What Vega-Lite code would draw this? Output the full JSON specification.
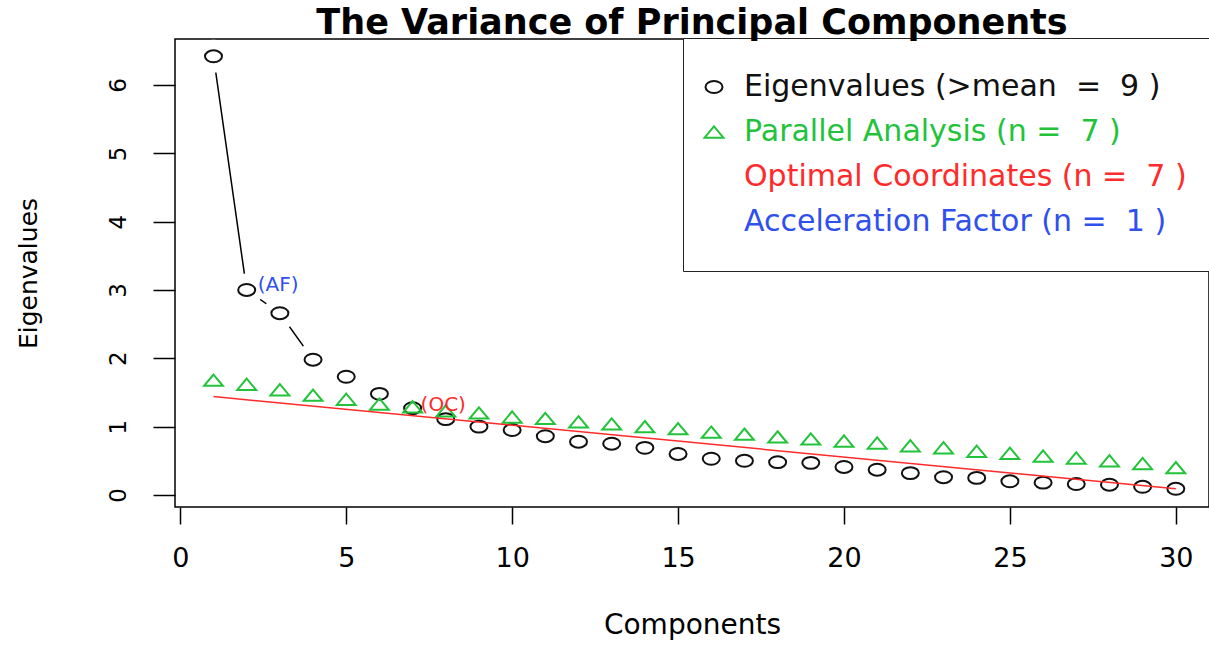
{
  "$schema": "https://vega.github.io/schema/vega-lite/v6.json",
  "usermeta": {"embedOptions": {"actions": false}},
  "autosize": "none",
  "width": 1034,
  "height": 468,
  "padding": {"left": 175, "top": 39, "right": 0, "bottom": 141},
  "background": "white",
  "title": {
    "text": "The Variance of Principal Components",
    "font": "DejaVu Sans",
    "fontSize": 35,
    "fontWeight": "bold",
    "color": "black",
    "anchor": "middle",
    "frame": "group",
    "baseline": "alphabetic",
    "offset": -31
  },
  "config": {
    "view": {"stroke": "black", "strokeWidth": 1.5},
    "axis": {"labelColor": "black", "titleColor": "black", "tickColor": "black", "grid": false, "domain": false}
  },
  "datasets": {
    "points": [
      {"component": 1, "value": 6.42, "series": "Eigenvalues (>mean \u00a0= \u00a09 )"},
      {"component": 2, "value": 3.00, "series": "Eigenvalues (>mean \u00a0= \u00a09 )"},
      {"component": 3, "value": 2.66, "series": "Eigenvalues (>mean \u00a0= \u00a09 )"},
      {"component": 4, "value": 1.98, "series": "Eigenvalues (>mean \u00a0= \u00a09 )"},
      {"component": 5, "value": 1.73, "series": "Eigenvalues (>mean \u00a0= \u00a09 )"},
      {"component": 6, "value": 1.48, "series": "Eigenvalues (>mean \u00a0= \u00a09 )"},
      {"component": 7, "value": 1.27, "series": "Eigenvalues (>mean \u00a0= \u00a09 )"},
      {"component": 8, "value": 1.11, "series": "Eigenvalues (>mean \u00a0= \u00a09 )"},
      {"component": 9, "value": 1.00, "series": "Eigenvalues (>mean \u00a0= \u00a09 )"},
      {"component": 10, "value": 0.95, "series": "Eigenvalues (>mean \u00a0= \u00a09 )"},
      {"component": 11, "value": 0.86, "series": "Eigenvalues (>mean \u00a0= \u00a09 )"},
      {"component": 12, "value": 0.78, "series": "Eigenvalues (>mean \u00a0= \u00a09 )"},
      {"component": 13, "value": 0.75, "series": "Eigenvalues (>mean \u00a0= \u00a09 )"},
      {"component": 14, "value": 0.69, "series": "Eigenvalues (>mean \u00a0= \u00a09 )"},
      {"component": 15, "value": 0.60, "series": "Eigenvalues (>mean \u00a0= \u00a09 )"},
      {"component": 16, "value": 0.53, "series": "Eigenvalues (>mean \u00a0= \u00a09 )"},
      {"component": 17, "value": 0.50, "series": "Eigenvalues (>mean \u00a0= \u00a09 )"},
      {"component": 18, "value": 0.48, "series": "Eigenvalues (>mean \u00a0= \u00a09 )"},
      {"component": 19, "value": 0.47, "series": "Eigenvalues (>mean \u00a0= \u00a09 )"},
      {"component": 20, "value": 0.41, "series": "Eigenvalues (>mean \u00a0= \u00a09 )"},
      {"component": 21, "value": 0.37, "series": "Eigenvalues (>mean \u00a0= \u00a09 )"},
      {"component": 22, "value": 0.32, "series": "Eigenvalues (>mean \u00a0= \u00a09 )"},
      {"component": 23, "value": 0.26, "series": "Eigenvalues (>mean \u00a0= \u00a09 )"},
      {"component": 24, "value": 0.25, "series": "Eigenvalues (>mean \u00a0= \u00a09 )"},
      {"component": 25, "value": 0.20, "series": "Eigenvalues (>mean \u00a0= \u00a09 )"},
      {"component": 26, "value": 0.18, "series": "Eigenvalues (>mean \u00a0= \u00a09 )"},
      {"component": 27, "value": 0.16, "series": "Eigenvalues (>mean \u00a0= \u00a09 )"},
      {"component": 28, "value": 0.15, "series": "Eigenvalues (>mean \u00a0= \u00a09 )"},
      {"component": 29, "value": 0.12, "series": "Eigenvalues (>mean \u00a0= \u00a09 )"},
      {"component": 30, "value": 0.09, "series": "Eigenvalues (>mean \u00a0= \u00a09 )"},
      {"component": 1, "value": 1.68, "series": "Parallel Analysis (n = \u00a07 )"},
      {"component": 2, "value": 1.62, "series": "Parallel Analysis (n = \u00a07 )"},
      {"component": 3, "value": 1.54, "series": "Parallel Analysis (n = \u00a07 )"},
      {"component": 4, "value": 1.46, "series": "Parallel Analysis (n = \u00a07 )"},
      {"component": 5, "value": 1.40, "series": "Parallel Analysis (n = \u00a07 )"},
      {"component": 6, "value": 1.33, "series": "Parallel Analysis (n = \u00a07 )"},
      {"component": 7, "value": 1.29, "series": "Parallel Analysis (n = \u00a07 )"},
      {"component": 8, "value": 1.23, "series": "Parallel Analysis (n = \u00a07 )"},
      {"component": 9, "value": 1.20, "series": "Parallel Analysis (n = \u00a07 )"},
      {"component": 10, "value": 1.14, "series": "Parallel Analysis (n = \u00a07 )"},
      {"component": 11, "value": 1.12, "series": "Parallel Analysis (n = \u00a07 )"},
      {"component": 12, "value": 1.07, "series": "Parallel Analysis (n = \u00a07 )"},
      {"component": 13, "value": 1.04, "series": "Parallel Analysis (n = \u00a07 )"},
      {"component": 14, "value": 1.00, "series": "Parallel Analysis (n = \u00a07 )"},
      {"component": 15, "value": 0.97, "series": "Parallel Analysis (n = \u00a07 )"},
      {"component": 16, "value": 0.92, "series": "Parallel Analysis (n = \u00a07 )"},
      {"component": 17, "value": 0.89, "series": "Parallel Analysis (n = \u00a07 )"},
      {"component": 18, "value": 0.85, "series": "Parallel Analysis (n = \u00a07 )"},
      {"component": 19, "value": 0.82, "series": "Parallel Analysis (n = \u00a07 )"},
      {"component": 20, "value": 0.79, "series": "Parallel Analysis (n = \u00a07 )"},
      {"component": 21, "value": 0.76, "series": "Parallel Analysis (n = \u00a07 )"},
      {"component": 22, "value": 0.72, "series": "Parallel Analysis (n = \u00a07 )"},
      {"component": 23, "value": 0.69, "series": "Parallel Analysis (n = \u00a07 )"},
      {"component": 24, "value": 0.64, "series": "Parallel Analysis (n = \u00a07 )"},
      {"component": 25, "value": 0.61, "series": "Parallel Analysis (n = \u00a07 )"},
      {"component": 26, "value": 0.57, "series": "Parallel Analysis (n = \u00a07 )"},
      {"component": 27, "value": 0.54, "series": "Parallel Analysis (n = \u00a07 )"},
      {"component": 28, "value": 0.50, "series": "Parallel Analysis (n = \u00a07 )"},
      {"component": 29, "value": 0.46, "series": "Parallel Analysis (n = \u00a07 )"},
      {"component": 30, "value": 0.40, "series": "Parallel Analysis (n = \u00a07 )"}
    ],
    "oc": [
      {"component": 1, "value": 1.44},
      {"component": 30, "value": 0.09}
    ],
    "notes": [
      {"component": 2, "value": 3.00, "label": "(AF)"},
      {"component": 7, "value": 1.27, "label": "(OC)"}
    ]
  },
  "encoding": {
    "x": {
      "field": "component", "type": "quantitative",
      "scale": {"domain": [-0.16, 31.0], "nice": false, "zero": false},
      "axis": {
        "values": [0, 5, 10, 15, 20, 25, 30],
        "title": "Components",
        "tickSize": 17, "tickWidth": 1.5,
        "labelFont": "DejaVu Sans", "labelFontSize": 27, "labelPadding": 21,
        "titleFont": "DejaVu Sans", "titleFontSize": 28, "titleFontWeight": "normal", "titlePadding": 40
      }
    },
    "y": {
      "field": "value", "type": "quantitative",
      "scale": {"domain": [-0.176, 6.673], "nice": false, "zero": false},
      "axis": {
        "values": [0, 1, 2, 3, 4, 5, 6],
        "title": "Eigenvalues",
        "tickSize": 22, "tickWidth": 1.5,
        "labelAngle": -90, "labelAlign": "center", "labelBaseline": "alphabetic",
        "labelFont": "DejaVu Sans", "labelFontSize": 23, "labelPadding": 28,
        "titleFont": "DejaVu Sans", "titleFontSize": 25, "titleFontWeight": "normal", "titlePadding": 66
      }
    }
  },
  "layer": [
    {
      "data": {"name": "points"},
      "transform": [{"filter": "datum.component <= 4 && indexof(datum.series, 'Eigen') === 0"}],
      "mark": {"type": "line", "color": "black", "strokeWidth": 1.5}
    },
    {
      "data": {"name": "points"},
      "transform": [{"filter": "datum.component <= 4 && indexof(datum.series, 'Eigen') === 0"}],
      "mark": {"type": "point", "shape": "circle", "filled": true, "color": "white", "opacity": 1, "size": 1100, "strokeWidth": 0}
    },
    {
      "data": {"name": "points"},
      "mark": {"type": "point", "filled": false, "strokeWidth": 2, "opacity": 1},
      "encoding": {
        "color": {
          "field": "series", "type": "nominal",
          "scale": {
            "domain": ["Eigenvalues (>mean \u00a0= \u00a09 )", "Parallel Analysis (n = \u00a07 )", "Optimal Coordinates (n = \u00a07 )", "Acceleration Factor (n = \u00a01 )"],
            "range": ["#111111", "#22c33a", "#ff2a2a", "#3050ee"]
          },
          "legend": {
            "title": null,
            "orient": "none",
            "legendX": 508,
            "legendY": -1,
            "padding": 34,
            "rowPadding": 15,
            "labelFont": "DejaVu Sans",
            "labelFontSize": 30,
            "labelOffset": 15,
            "symbolOffset": -18,
            "labelLimit": 1000,
            "symbolSize": 300,
            "symbolStrokeWidth": 2,
            "strokeColor": "#222222",
            "fillColor": "white",
            "labelColor": {"expr": "indexof(datum.value, 'Parallel') === 0 ? '#22c33a' : indexof(datum.value, 'Optimal') === 0 ? '#ff2a2a' : indexof(datum.value, 'Acceleration') === 0 ? '#3050ee' : '#111111'"}
          }
        },
        "shape": {
          "field": "series", "type": "nominal",
          "scale": {
            "domain": ["Eigenvalues (>mean \u00a0= \u00a09 )", "Parallel Analysis (n = \u00a07 )", "Optimal Coordinates (n = \u00a07 )", "Acceleration Factor (n = \u00a01 )"],
            "range": ["M-1,0A1,0.7,0,1,0,1,0A1,0.7,0,1,0,-1,0Z", "M0,-0.6L1,0.6L-1,0.6Z", "M0,0", "M0,0"]
          }
        },
        "size": {
          "field": "series", "type": "nominal",
          "scale": {
            "domain": ["Eigenvalues (>mean \u00a0= \u00a09 )", "Parallel Analysis (n = \u00a07 )", "Optimal Coordinates (n = \u00a07 )", "Acceleration Factor (n = \u00a01 )"],
            "range": [289, 484, 100, 100]
          },
          "legend": null
        }
      }
    },
    {
      "data": {"name": "oc"},
      "mark": {"type": "line", "color": "#ff2a2a", "strokeWidth": 1.5}
    },
    {
      "data": {"name": "notes"},
      "transform": [{"filter": "datum.label === '(AF)'"}],
      "mark": {"type": "text", "align": "left", "baseline": "middle", "dx": 11, "dy": -5, "font": "DejaVu Sans", "fontSize": 20, "color": "#3050ee"},
      "encoding": {"text": {"field": "label"}}
    },
    {
      "data": {"name": "notes"},
      "transform": [{"filter": "datum.label === '(OC)'"}],
      "mark": {"type": "text", "align": "left", "baseline": "middle", "dx": 8, "dy": -3, "font": "DejaVu Sans", "fontSize": 20, "color": "#ff2a2a"},
      "encoding": {"text": {"field": "label"}}
    }
  ]
}
